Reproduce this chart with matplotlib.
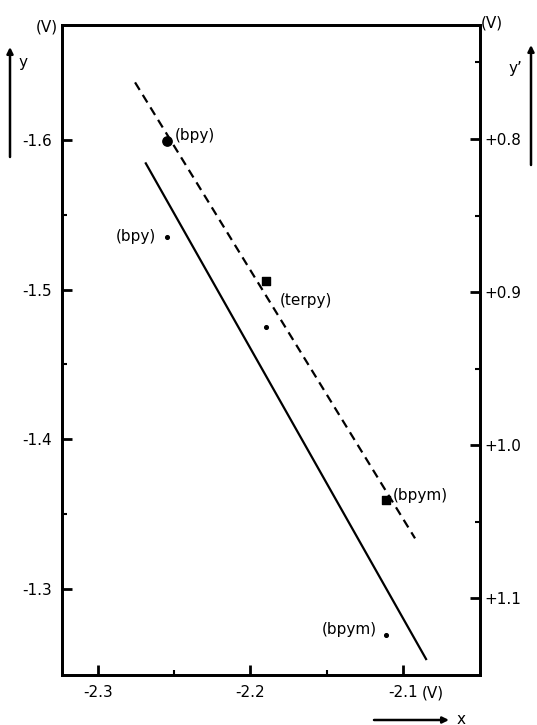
import matplotlib
matplotlib.use("Agg")
import matplotlib.pyplot as plt
from matplotlib.patches import FancyArrowPatch
from matplotlib.ticker import FixedLocator

# ---- data ----
complexes = ["(bpy)", "(terpy)", "(bpym)"]
x_vals = [-2.255, -2.190, -2.111]          # x (V)
y_vals = [-1.535, -1.475, -1.269]          # y (V), small dots, solid line axis
yp_vals = [0.801, 0.893, 1.036]            # y' (V), big markers, dashed line axis
yp_markers = ["o", "s", "s"]

solid_line_x = [-2.269, -2.0845]
solid_line_y = [-1.585, -1.2525]
dashed_line_x = [-2.2757, -2.0921]
dashed_line_yp = [0.763, 1.061]

x_ticks = [-2.3, -2.2, -2.1]
x_ticklabels = ["-2.3", "-2.2", "-2.1"]
x_minor = [-2.25, -2.15]
y_ticks = [-1.6, -1.5, -1.4, -1.3]
y_ticklabels = ["-1.6", "-1.5", "-1.4", "-1.3"]
y_minor = [-1.55, -1.45, -1.35]
yp_ticks = [0.8, 0.9, 1.0, 1.1]
yp_ticklabels = ["+0.8", "+0.9", "+1.0", "+1.1"]
yp_minor = [0.75, 0.85, 0.95, 1.05]

plt.rcParams["font.family"] = ["DejaVu Sans"]
W, H = 537, 725
fig = plt.figure(figsize=(W / 100, H / 100), dpi=100)
ax = fig.add_axes([62 / W, 1 - 675 / H, (480 - 62) / W, (675 - 25) / H])
ax2 = ax.twinx()

ax.set_xlim(-2.3236, -2.0495)
ax.set_ylim(-1.2425, -1.6768)
ax2.set_ylim(1.1503, 0.7255)

for a in (ax, ax2):
    for s in a.spines.values():
        s.set_linewidth(2.0)

# lines
ax.plot(solid_line_x, solid_line_y, color="black", lw=1.6, solid_capstyle="butt")
ax2.plot(dashed_line_x, dashed_line_yp, color="black", lw=1.6, linestyle=(0, (4, 2.6)))

# points
ax.scatter(x_vals, y_vals, s=7, color="black", zorder=3)
for xv, yv, m in zip(x_vals, yp_vals, yp_markers):
    ax2.scatter([xv], [yv], s=45 if m == "o" else 30, marker=m, color="black", zorder=3)

fs = 11
# labels for big markers (y' axis)
ax2.annotate(complexes[0], (x_vals[0], yp_vals[0]), xytext=(6, 3.6), textcoords="offset points",
             ha="left", va="center", fontsize=fs)
ax2.annotate(complexes[2], (x_vals[2], yp_vals[2]), xytext=(5, 3.6), textcoords="offset points",
             ha="left", va="center", fontsize=fs)
# labels for small dots (y axis)
ax.annotate(complexes[0], (x_vals[0], y_vals[0]), xytext=(-8, 0.5), textcoords="offset points",
            ha="right", va="center", fontsize=fs)
ax.annotate(complexes[1], (x_vals[1], y_vals[1]), xytext=(10, 19), textcoords="offset points",
            ha="left", va="center", fontsize=fs)
ax.annotate(complexes[2], (x_vals[2], y_vals[2]), xytext=(-7, 4.5), textcoords="offset points",
            ha="right", va="center", fontsize=fs)

# ticks
ax.xaxis.set_major_locator(FixedLocator(x_ticks))
ax.set_xticklabels(x_ticklabels)
ax.xaxis.set_minor_locator(FixedLocator(x_minor))
ax.yaxis.set_major_locator(FixedLocator(y_ticks))
ax.set_yticklabels(y_ticklabels)
ax.yaxis.set_minor_locator(FixedLocator(y_minor))
ax2.yaxis.set_major_locator(FixedLocator(yp_ticks))
ax2.set_yticklabels(yp_ticklabels)
ax2.yaxis.set_minor_locator(FixedLocator(yp_minor))

ax.tick_params(axis="both", which="major", direction="in", length=7, width=2, labelsize=fs, pad=7)
ax.tick_params(axis="both", which="minor", direction="in", length=3.5, width=1.5)
ax.tick_params(axis="y", right=False)
ax.tick_params(axis="x", top=False)
ax2.tick_params(axis="y", which="major", direction="in", length=7, width=2, labelsize=fs, pad=3)
ax2.tick_params(axis="y", which="minor", direction="in", length=3.5, width=1.5)

# axis unit labels & arrows
fig.text(47 / W, 1 - 27 / H, "(V)", ha="center", va="center", fontsize=fs)
fig.text(481 / W, 1 - 23 / H, "(V)", ha="left", va="center", fontsize=fs)
fig.text(422 / W, 1 - 693 / H, "(V)", ha="left", va="center", fontsize=fs)
fig.text(23 / W, 1 - 62 / H, "y", ha="center", va="center", fontsize=fs)
fig.text(515 / W, 1 - 68 / H, "y\u2019", ha="center", va="center", fontsize=fs)
fig.text(457 / W, 1 - 719 / H, "x", ha="left", va="center", fontsize=fs)

def farrow(x0, y0, x1, y1):
    fig.add_artist(FancyArrowPatch((x0 / W, 1 - y0 / H), (x1 / W, 1 - y1 / H),
                                   transform=fig.transFigure, arrowstyle="-|>",
                                   mutation_scale=9, lw=1.8, color="black",
                                   shrinkA=0, shrinkB=0))

farrow(10, 157, 10, 47)
farrow(531, 165, 531, 45)
farrow(374, 720, 449, 720)

fig.savefig("out.png", dpi=100)
